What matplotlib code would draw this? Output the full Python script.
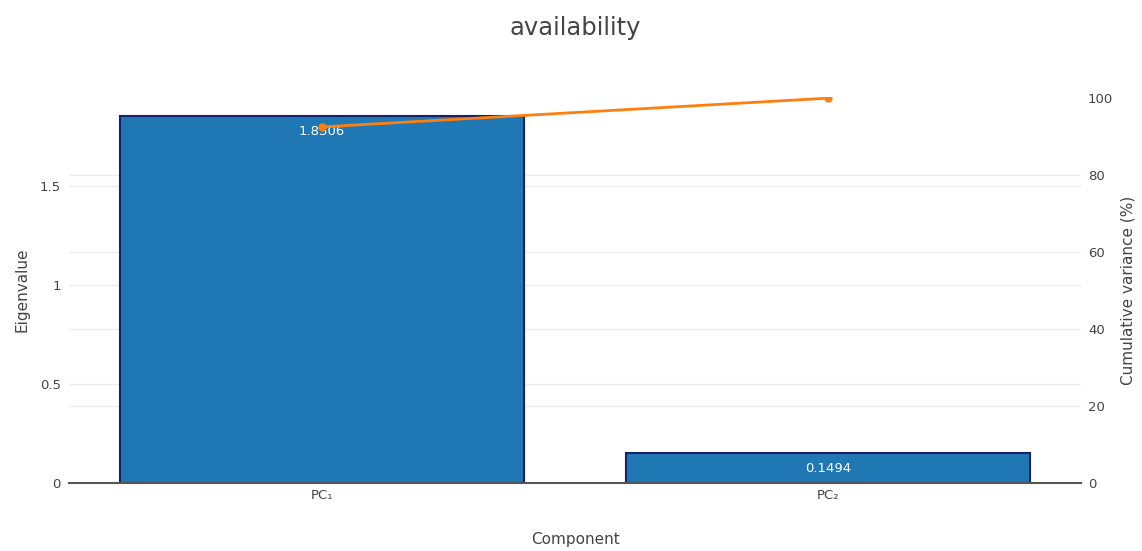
import numpy as np
import matplotlib.pyplot as plt

components = ["PC\u2081", "PC\u2082"]
eigenvalues = [1.8506, 0.1494]
cumulative_pct = [92.53, 100.0]

W, H = 1142, 551
fig = plt.figure(figsize=(W / 100, H / 100), dpi=100)
plt.rcParams["font.family"] = ["DejaVu Sans"]

# plot area in pixels
left, right, top, bottom = 69, 1081, 97, 483
ax = fig.add_axes([left / W, 1 - bottom / H, (right - left) / W, (bottom - top) / H])
ax2 = ax.twinx()

text_col = "#444444"
grid_col = "#ebebeb"
x = np.arange(len(components))

y1max = max(eigenvalues) * 1.0525
y2max = 100.3
ax.set_xlim(-0.5, len(components) - 0.5)
ax.set_ylim(0, y1max)
ax2.set_ylim(0, y2max)

# gridlines from both y axes, kept behind the bars
for v in [0.5, 1.0, 1.5]:
    ax.axhline(v, color=grid_col, lw=1, zorder=0)
for v in [20, 40, 60, 80]:
    ax.axhline(v * y1max / y2max, color=grid_col, lw=1, zorder=0)

ax.bar(x, eigenvalues, width=0.8, color="#1f77b4", edgecolor="#16216a",
       linewidth=1.5, zorder=2)
for xi, v in zip(x, eigenvalues):
    ax.annotate(f"{v:.4f}", (xi, v), xytext=(0, -6), textcoords="offset points",
                ha="center", va="top", color="white", fontsize=9.5, zorder=3)

ax2.plot(x, cumulative_pct, color="#ff7f0e", lw=2, marker="o", ms=5, zorder=4)

for a in (ax, ax2):
    for s in a.spines.values():
        s.set_visible(False)
    a.tick_params(length=0, colors=text_col, labelsize=9.5)
ax.axhline(0, color="#555555", lw=1.5, zorder=3, clip_on=False)

ax.set_xticks(x)
ax.set_xticklabels(components)
ax.set_yticks([0, 0.5, 1, 1.5])
ax.set_yticklabels(["0", "0.5", "1", "1.5"])
ax2.set_yticks([0, 20, 40, 60, 80, 100])
ax.tick_params(axis="y", pad=6)
ax2.tick_params(axis="y", pad=5)
ax.tick_params(axis="x", pad=4)

ax.set_ylabel("Eigenvalue", color=text_col, fontsize=11, labelpad=7)
ax2.set_ylabel("Cumulative variance (%)", color=text_col, fontsize=11, labelpad=5)
ax.set_xlabel("Component", color=text_col, fontsize=11, labelpad=22)
ax.set_zorder(ax2.get_zorder() - 1)
ax2.patch.set_visible(False)

fig.text(575 / W, 1 - 28 / H, "availability", ha="center", va="center",
         fontsize=17.5, color=text_col)

fig.savefig("out.png", dpi=100)
